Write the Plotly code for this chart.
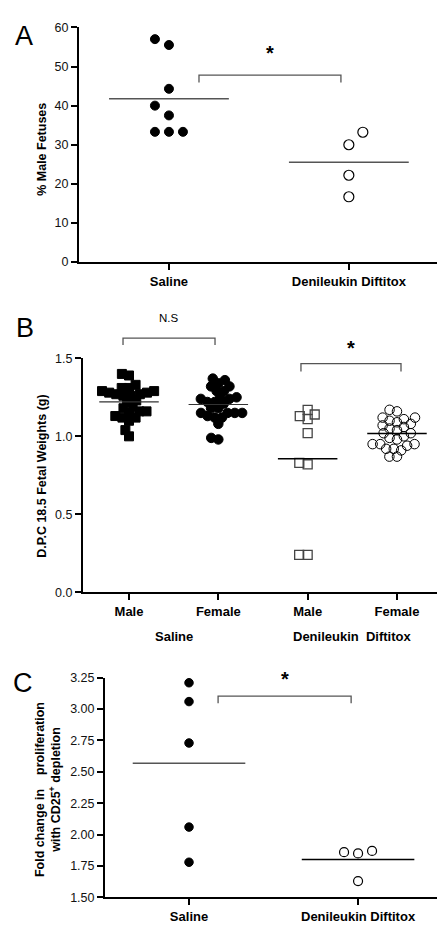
import numpy as np
import plotly.graph_objects as go

# ---------------- DATA ----------------
# Panel A: % male fetuses
a_categories = ["Saline", "Denileukin Diftitox"]
a_saline = [57.0, 55.5, 44.3, 40.0, 37.5, 33.3, 33.3, 33.3]
a_denileukin = [33.2, 30.0, 22.2, 16.7]
a_yticks = [0, 10, 20, 30, 40, 50, 60]

# Panel B: D.P.C 18.5 fetal weights (g)
b_categories = ["Male", "Female", "Male", "Female"]
b_groups = ["Saline", "Denileukin\u00a0\u00a0Diftitox"]
b_saline_male = [1.40, 1.39, 1.33, 1.31, 1.31, 1.29, 1.29, 1.28, 1.28, 1.27, 1.27,
                 1.26, 1.26, 1.22, 1.23, 1.18, 1.19, 1.16, 1.16, 1.15, 1.13,
                 1.10, 1.12, 1.12, 1.04, 1.00]
b_saline_female = [1.37, 1.36, 1.34, 1.32, 1.32, 1.29, 1.29, 1.25, 1.25, 1.24, 1.24,
                   1.22, 1.22, 1.21, 1.18, 1.18, 1.15, 1.15, 1.15, 1.15, 1.12,
                   1.12, 1.13, 1.08, 0.98, 0.99]
b_den_male = [1.17, 1.13, 1.11, 1.14, 1.02, 0.83, 0.82, 0.24, 0.24]
b_den_female = [1.17, 1.16, 1.11, 1.12, 1.12, 1.10, 1.08, 1.09, 1.07, 1.06, 1.05,
                1.04, 1.02, 1.02, 1.00, 0.99, 0.98, 0.95, 0.95, 0.95, 0.94,
                0.92, 0.91, 0.92, 0.87, 0.87]
b_yticks = [0.0, 0.5, 1.0, 1.5]

# Panel C: fold change in proliferation with CD25+ depletion
c_categories = ["Saline", "Denileukin Diftitox"]
c_saline = [3.21, 3.06, 2.73, 2.06, 1.78]
c_denileukin = [1.86, 1.85, 1.87, 1.63]
c_yticks = [1.50, 1.75, 2.00, 2.25, 2.50, 2.75, 3.00, 3.25]

# significance brackets: (x_start, x_end, top value, drop, label)
a_brackets = [(1.167, 1.956, 47.8, 1.9, "*")]
b_brackets = [(0.933, 1.963, 1.630, 0.045, "N.S"), (2.925, 4.045, 1.466, 0.05, "*")]
c_brackets = [(1.172, 1.959, 3.103, 0.057, "*")]

# ---------------- LAYOUT GEOMETRY (pixels) ----------------
W, H = 439, 929
FONT = "Liberation Sans, Arial, sans-serif"
# (left px, right px, bottom px, top px, xrange, yrange)
GEO = {
    "A": (79, 437, 259, 20.7, [0.5, 2.49], [0, 60]),
    "B": (83, 437, 594.3, 356.7, [0.485, 4.448], [0, 1.5]),
    "C": (105, 437, 904, 681, [0.503, 2.467], [1.5, 3.25]),
}
STAR_GAP = {"A": 9, "B": 3, "C": 4}


def px_x(p):
    return p / W


def px_y(p):
    return 1 - p / H


def scales(key):
    l, r, b, t, xr, yr = GEO[key]
    return (r - l) / (xr[1] - xr[0]), (b - t) / (yr[1] - yr[0])


def swarm(values, key, d, grid=False, prefer=-1):
    sx, sy = scales(key)
    vals = np.asarray(values, float)
    order = np.argsort(vals, kind="stable")
    placed = []
    offs = np.zeros(len(vals))
    for i in order:
        y = vals[i] * sy
        if grid:
            cands = [0.0]
            for k in range(1, 30):
                cands += [prefer * k * d, -prefer * k * d]
        else:
            cs = {0.0}
            for px, py in placed:
                dy = y - py
                if abs(dy) < d:
                    dx = np.sqrt(d * d - dy * dy)
                    cs.add(px + dx)
                    cs.add(px - dx)
            cands = sorted(cs, key=lambda c: (round(abs(c), 6), -prefer * c))
        chosen = 0.0
        for c in cands:
            if all((c - px) ** 2 + (y - py) ** 2 >= d * d - 1e-6 for px, py in placed):
                chosen = c
                break
        placed.append((chosen, y))
        offs[i] = chosen / sx
    return offs


fig = go.Figure()


def add_points(values, xc, key, axis, symbol, fill, line_color, size, d, grid=False, lw=1.0, prefer=-1):
    offs = swarm(values, key, d, grid, prefer)
    fig.add_trace(go.Scatter(
        x=xc + offs, y=values, mode="markers", xaxis="x" + axis, yaxis="y" + axis,
        marker=dict(symbol=symbol, size=size, color=fill,
                    line=dict(color=line_color, width=lw)),
        showlegend=False, hoverinfo="skip", cliponaxis=False))


def add_mean(values, xc, axis, color, width):
    m = float(np.mean(values))
    fig.add_trace(go.Scatter(
        x=[xc - 0.333, xc + 0.333], y=[m, m], mode="lines", xaxis="x" + axis, yaxis="y" + axis,
        line=dict(color=color, width=width), showlegend=False, hoverinfo="skip"))


# Panel A
add_points(a_saline, 1, "A", "", "circle", "black", "black", 9, 14, grid=True)
add_points(a_denileukin, 2, "A", "", "circle-open", "black", "black", 10, 14, grid=True, lw=1.2, prefer=1)
add_mean(a_saline, 1, "", "#555555", 1.5)
add_mean(a_denileukin, 2, "", "#555555", 1.5)

# Panel B
add_points(b_saline_male, 1, "B", "2", "square", "black", "black", 9, 7.3)
add_points(b_saline_female, 2, "B", "2", "circle", "black", "black", 9.5, 7.3)
add_points(b_den_male, 3, "B", "2", "square-open", "#444444", "#444444", 9, 8.5, lw=1.3)
add_points(b_den_female, 4, "B", "2", "circle-open", "black", "black", 9.5, 7.6, lw=1.0)
add_mean(b_saline_male, 1, "2", "#333333", 1.2)
add_mean(b_saline_female, 2, "2", "#333333", 1.2)
add_mean(b_den_male, 3, "2", "black", 1.5)
add_mean(b_den_female, 4, "2", "black", 1.5)

# Panel C
add_points(c_saline, 1, "C", "3", "circle", "black", "black", 8.5, 14, grid=True)
add_points(c_denileukin, 2, "C", "3", "circle-open", "black", "black", 9, 14, grid=True, lw=1.2)
add_mean(c_saline, 1, "3", "#555555", 1.5)
add_mean(c_denileukin, 2, "3", "black", 1.5)

shapes = []
annotations = []


def brackets(items, key, axis):
    yr = GEO[key][5]
    hpx = GEO[key][2] - GEO[key][3]
    for x0, x1, top, drop, label in items:
        ft = (top - yr[0]) / (yr[1] - yr[0])
        fb = (top - drop - yr[0]) / (yr[1] - yr[0])
        xa = "x" + axis
        shapes.append(dict(type="path", xref=xa, yref="y" + axis + " domain",
                           path=f"M {x0},{fb} L {x0},{ft} L {x1},{ft} L {x1},{fb}",
                           line=dict(color="#555555", width=1.3)))
        if label == "*":
            annotations.append(dict(xref=xa, yref="y" + axis + " domain",
                                    x=(x0 + x1) / 2, y=ft + STAR_GAP[key] / hpx,
                                    text="<b>*</b>", showarrow=False,
                                    font=dict(size=20, family=FONT, color="black"),
                                    xanchor="center", yanchor="bottom"))
        else:
            annotations.append(dict(xref=xa, yref="y" + axis + " domain",
                                    x=(x0 + x1) / 2, y=ft + 12 / hpx,
                                    text=label, showarrow=False,
                                    font=dict(size=11.5, family=FONT, color="black"),
                                    xanchor="center", yanchor="bottom"))


brackets(a_brackets, "A", "")
brackets(b_brackets, "B", "2")
brackets(c_brackets, "C", "3")


def text(xp, yp, s, size, bold=False, angle=0):
    annotations.append(dict(xref="paper", yref="paper", x=px_x(xp), y=px_y(yp), text=s,
                            showarrow=False, textangle=angle,
                            font=dict(size=size, family=FONT, color="black",
                                      weight="bold" if bold else "normal"),
                            xanchor="center", yanchor="middle"))


# panel letters
text(24, 29, "A", 27)
text(25, 326, "B", 27)
text(23, 686, "C", 27)
# y-axis titles
text(42, 145, "% Male Fetuses", 12.5, True, -90)
text(42, 477, "D.P.C 18.5 Fetal Weights (g)", 12.5, True, -90)
text(48, 795, "Fold change in\u00a0\u00a0\u00a0\u00a0proliferation<br>with CD25<sup>+</sup> depletion",
     12.5, True, -90)
# group labels under panel B
sxB, _ = scales("B")
for i, g in enumerate(b_groups):
    xc = 1.5 + 2 * i
    xp = GEO["B"][0] + (xc - GEO["B"][4][0]) * sxB
    text(xp, 639, g, 13, True)


def axes(key, cats, ytv, yfmt):
    l, r, b, t, xr, yr = GEO[key]
    xa = dict(domain=[px_x(l), px_x(r)], range=xr, tickvals=list(range(1, len(cats) + 1)),
              ticktext=cats, ticks="outside", ticklen=6, tickwidth=2, tickcolor="black",
              showline=True, linewidth=2, linecolor="black", showgrid=False, zeroline=False,
              tickfont=dict(size=13, family=FONT, color="black", weight="bold"),
              fixedrange=True)
    ya = dict(domain=[px_y(b), px_y(t)], range=yr, tickvals=ytv, tickformat=yfmt,
              ticks="outside", ticklen=6, tickwidth=1.5, tickcolor="black",
              showline=True, linewidth=2, linecolor="black", showgrid=False, zeroline=False,
              tickfont=dict(size=12.5, family=FONT, color="#111111"), fixedrange=True)
    return xa, ya


xa1, ya1 = axes("A", a_categories, a_yticks, "d")
xa2, ya2 = axes("B", b_categories, b_yticks, ".1f")
xa3, ya3 = axes("C", c_categories, c_yticks, ".2f")
xa1["anchor"] = "y"; ya1["anchor"] = "x"
xa2["anchor"] = "y2"; ya2["anchor"] = "x2"
xa3["anchor"] = "y3"; ya3["anchor"] = "x3"

fig.update_layout(
    width=W, height=H, margin=dict(l=0, r=0, t=0, b=0),
    paper_bgcolor="white", plot_bgcolor="white", showlegend=False,
    xaxis=xa1, yaxis=ya1, xaxis2=xa2, yaxis2=ya2, xaxis3=xa3, yaxis3=ya3,
    shapes=shapes, annotations=annotations,
    font=dict(family=FONT, color="black"),
)

fig.write_html("out.html", config={"displayModeBar": False})
